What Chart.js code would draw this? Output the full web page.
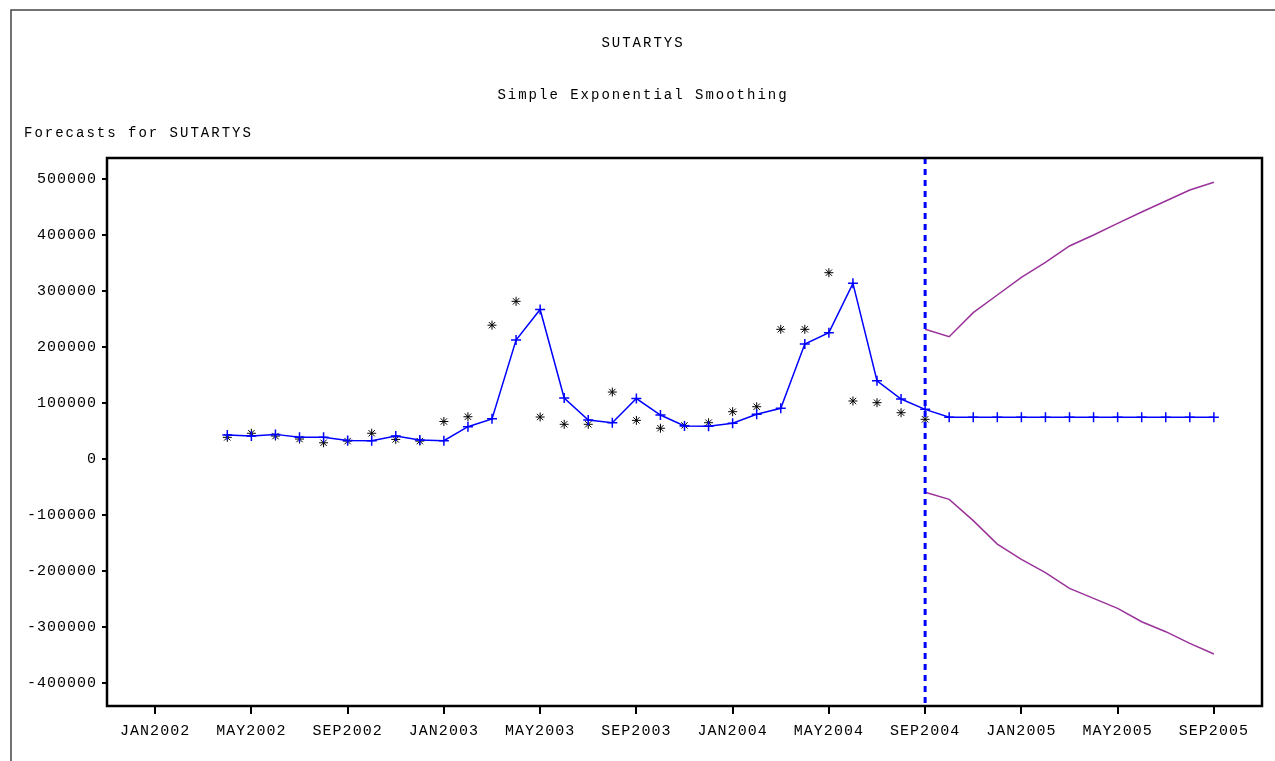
<!DOCTYPE html>
<html>
<head>
<meta charset="utf-8">
<script src="https://cdn.jsdelivr.net/npm/chart.js@4/dist/chart.umd.min.js"></script>
<style>
  html, body { margin: 0; padding: 0; background: #fff; }
  canvas { display: block; }
</style>
</head>
<body>
<canvas id="chart" width="1275" height="761"></canvas>
<script>
const ctx = document.getElementById('chart').getContext('2d');

// month axis NOV2001 .. NOV2005
const MONTH_NAMES = ['JAN','FEB','MAR','APR','MAY','JUN','JUL','AUG','SEP','OCT','NOV','DEC'];
const allMonths = [];
for (let yr = 2001; yr <= 2005; yr++) {
  MONTH_NAMES.forEach(m => allMonths.push(m + yr));
}
const categories = allMonths.slice(allMonths.indexOf('NOV2001'), allMonths.indexOf('NOV2005') + 1);

const tickLabels = ['JAN2002','MAY2002','SEP2002','JAN2003','MAY2003','SEP2003',
  'JAN2004','MAY2004','SEP2004','JAN2005','MAY2005','SEP2005'];
const yTicks = [-400000,-300000,-200000,-100000,0,100000,200000,300000,400000,500000];

// actual values (stars), APR2002 .. SEP2004
const actualStart = 'APR2002';
const actualValues = [38700, 46000, 41000, 35700, 29000, 32000, 46000, 35000, 32000,
  67000, 75500, 239000, 281600, 75000, 62000, 62000, 119600, 69000, 55000, 60000, 64800,
  84500, 93400, 231600, 231600, 332700, 103600, 100600, 82700, 70900];

// one-step forecasts (+), APR2002 .. SEP2005
const forecastStart = 'APR2002';
const forecastValues = [43000, 41000, 44000, 38700, 38700, 33000, 32700, 41000, 34000,
  32700, 57700, 71700, 212500, 267000, 109000, 69600, 64800, 108000, 78600, 59000, 58500,
  64000, 80000, 90500, 205400, 225600, 313700, 139800, 107100, 88700,
  74500, 74500, 74500, 74500, 74500, 74500, 74500, 74500, 74500, 74500, 74500, 74500];

// confidence limits, SEP2004 .. SEP2005
const limitStart = 'SEP2004';
const upperValues = [231600, 218400, 261300, 292900, 324400, 351200, 380400, 400000,
  420800, 441000, 460700, 480400, 494100];
const lowerValues = [-59500, -72000, -110000, -151800, -179200, -203000, -231000,
  -248800, -266600, -290500, -308300, -329200, -348200];

const forecastLine = 'SEP2004';

function toPoints(start, values) {
  const i0 = categories.indexOf(start);
  return values.map((v, i) => ({ x: categories[i0 + i], y: v }));
}

const FONT = '"Liberation Mono", "Courier New", monospace';

const decorations = {
  id: 'decorations',
  beforeDraw(chart) {
    const c = chart.ctx;
    c.letterSpacing = '1px';
    // outer frame
    c.save();
    c.strokeStyle = '#444';
    c.lineWidth = 1.5;
    c.beginPath();
    c.moveTo(11, 761);
    c.lineTo(11, 10);
    c.lineTo(1275, 10);
    c.stroke();
    c.restore();
  },
  afterDatasetsDraw(chart) {
    const c = chart.ctx;
    const a = chart.chartArea;
    const x = chart.scales.x.getPixelForValue(categories.indexOf(forecastLine));
    c.save();
    c.strokeStyle = '#0000ff';
    c.lineWidth = 3;
    c.setLineDash([6, 5]);
    c.beginPath();
    c.moveTo(x, a.top);
    c.lineTo(x, a.bottom);
    c.stroke();
    c.restore();
  },
  afterDraw(chart) {
    const c = chart.ctx;
    const a = chart.chartArea;
    c.save();
    c.strokeStyle = '#000';
    c.lineWidth = 2.5;
    c.strokeRect(a.left, a.top, a.right - a.left, a.bottom - a.top);
    c.fillStyle = '#000';
    c.font = '14px ' + FONT;
    c.letterSpacing = '2px';
    c.textBaseline = 'middle';
    c.textAlign = 'center';
    c.fillText('SUTARTYS', 643, 43);
    c.fillText('Simple Exponential Smoothing', 643, 95);
    c.textAlign = 'left';
    c.fillText('Forecasts for SUTARTYS', 24, 133);
    c.restore();
  }
};

const myChart = new Chart(ctx, {
  type: 'line',
  data: {
    labels: categories,
    datasets: [
      {
        label: 'Upper',
        data: toPoints(limitStart, upperValues),
        borderColor: '#993399',
        borderWidth: 1.5,
        pointRadius: 0,
        fill: false
      },
      {
        label: 'Lower',
        data: toPoints(limitStart, lowerValues),
        borderColor: '#993399',
        borderWidth: 1.5,
        pointRadius: 0,
        fill: false
      },
      {
        label: 'Forecast',
        data: toPoints(forecastStart, forecastValues),
        borderColor: '#0000ff',
        borderWidth: 1.5,
        pointStyle: 'cross',
        pointRadius: 5,
        pointBorderColor: '#0000ff',
        pointBorderWidth: 1.5,
        fill: false
      },
      {
        label: 'Actual',
        data: toPoints(actualStart, actualValues),
        showLine: false,
        pointStyle: 'star',
        pointRadius: 4.5,
        pointBorderColor: '#000',
        pointBorderWidth: 1
      }
    ]
  },
  options: {
    responsive: false,
    animation: false,
    devicePixelRatio: 1,
    layout: { padding: { top: 158, right: 13, left: 0, bottom: 0 } },
    plugins: {
      legend: { display: false },
      tooltip: { enabled: false }
    },
    scales: {
      x: {
        type: 'category',
        offset: false,
        afterFit(scale) { scale.height = 55; },
        ticks: {
          autoSkip: false,
          maxRotation: 0,
          padding: 8,
          color: '#000',
          font: { family: FONT, size: 15 },
          callback(v) {
            const l = this.getLabelForValue(v);
            return tickLabels.includes(l) ? l : '';
          }
        },
        grid: {
          drawOnChartArea: false,
          tickLength: 8,
          lineWidth: 2,
          color: c => (c.tick && tickLabels.includes(categories[c.tick.value])) ? '#000' : 'rgba(0,0,0,0)'
        },
        border: { display: true, color: '#000', width: 2 }
      },
      y: {
        min: -441000,
        max: 537500,
        afterFit(scale) { scale.width = 107; },
        afterBuildTicks(scale) { scale.ticks = yTicks.map(v => ({ value: v })); },
        ticks: {
          padding: 5,
          color: '#000',
          font: { family: FONT, size: 15 },
          callback: v => v.toString()
        },
        grid: {
          drawOnChartArea: false,
          tickLength: 5,
          lineWidth: 2,
          color: '#000'
        },
        border: { display: true, color: '#000', width: 2 }
      }
    }
  },
  plugins: [decorations]
});
</script>
</body>
</html>
